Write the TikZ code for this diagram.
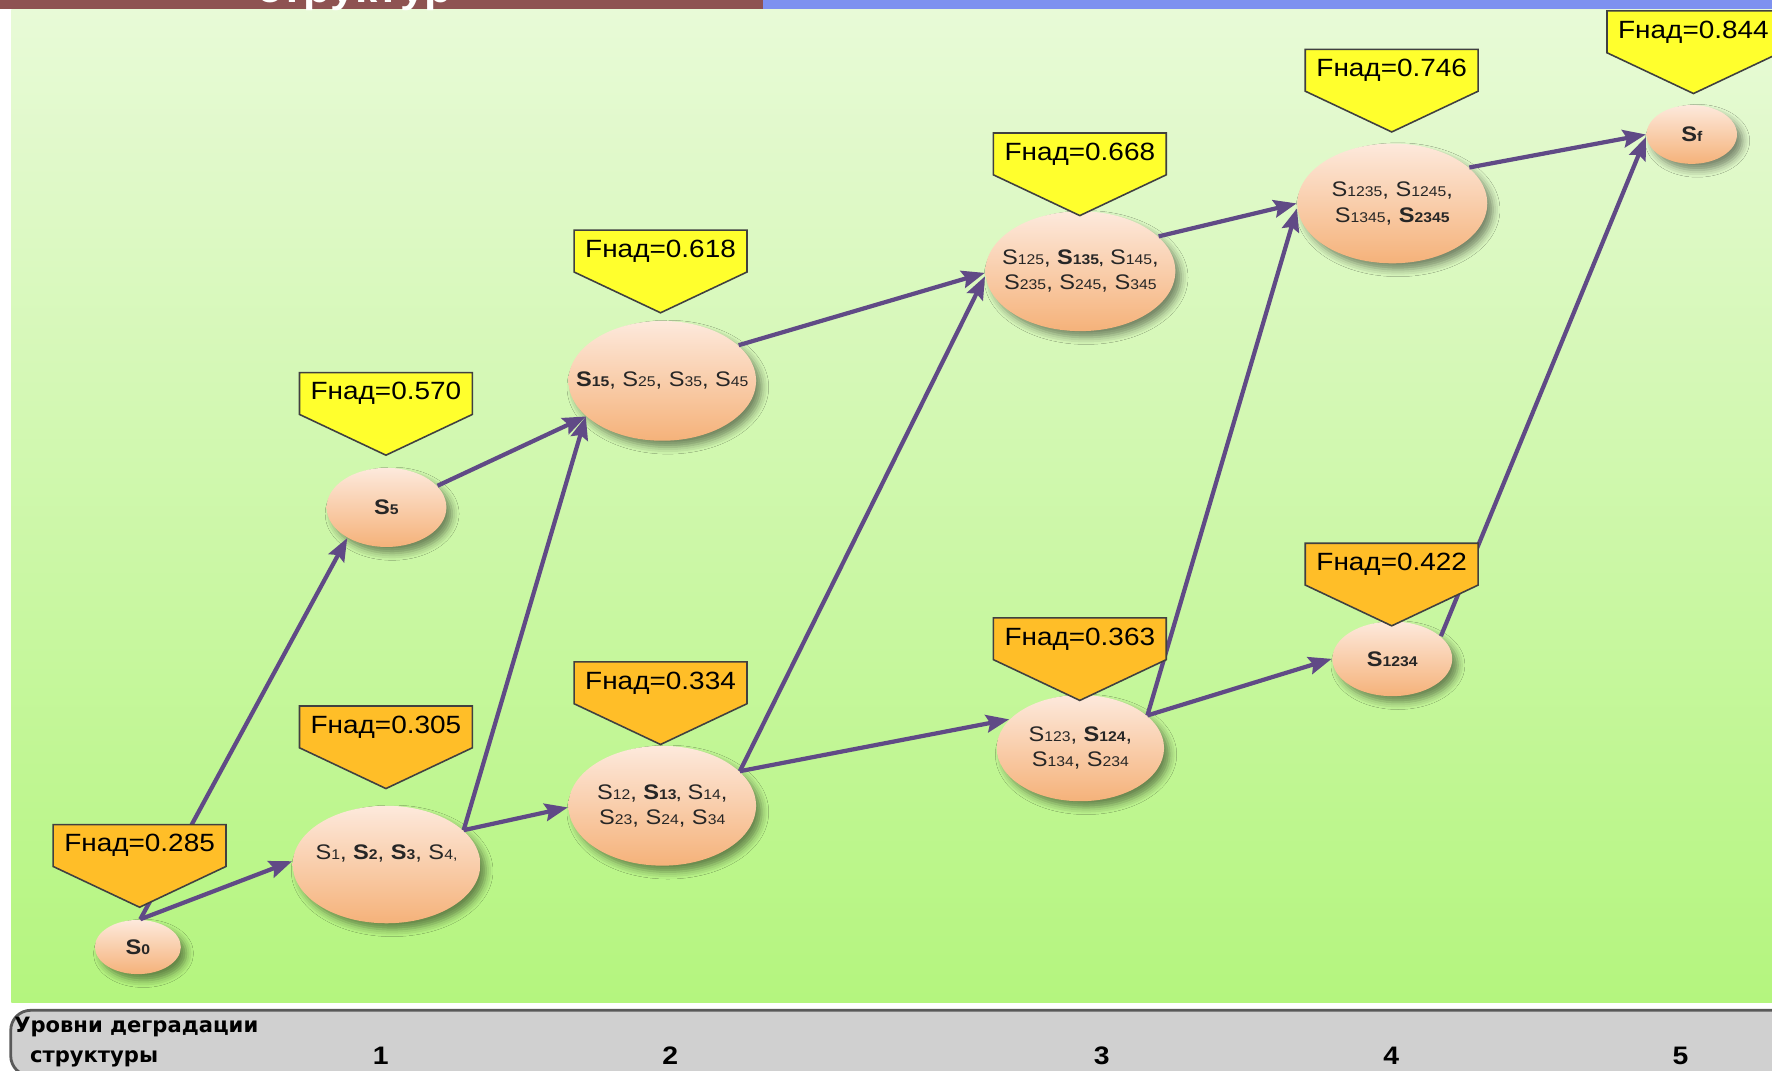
\documentclass[tikz,border=0pt]{standalone}
\usepackage{fontspec}
\setmainfont{Liberation Sans}[FakeStretch=1.12]
\newfontfamily\levfont{DejaVu Sans}
\usepackage{tikz}
\usetikzlibrary{shapes.geometric}
\usetikzlibrary{shapes.symbols}
\usetikzlibrary{arrows.meta}
\usetikzlibrary{shadows.blur}

\definecolor{linkViolet}{RGB}{96,74,134}
\definecolor{fYel}{RGB}{255,255,45}
\definecolor{fOra}{RGB}{255,190,40}
\definecolor{stTop}{RGB}{253,233,220}
\definecolor{stBot}{RGB}{245,178,122}
\definecolor{bgTop}{RGB}{232,250,215}
\definecolor{bgBot}{RGB}{180,245,126}
\definecolor{barBrown}{RGB}{142,82,82}
\definecolor{barBlue}{RGB}{125,145,240}
\definecolor{levGrey}{RGB}{208,208,208}

\newcommand{\snorm}[1]{S{\fontsize{4}{5}\selectfont #1}}
\newcommand{\sbold}[1]{\textbf{S{\fontsize{4}{5}\selectfont #1}}}

\begin{document}
\begin{tikzpicture}[x=0.11301mm, y=-0.11301mm,
  every node/.style={inner sep=0pt},
  stnode/.style={ellipse, top color=stTop, bottom color=stBot,
    blur shadow={shadow xshift=1.6pt, shadow yshift=-1.8pt,
      shadow blur radius=2pt, shadow opacity=45}},
  stl/.style={font=\fontsize{6}{7.2}\selectfont, align=center, text=black!85},
  fnad/.style={signal, signal to=south, signal pointer angle=129.5,
    draw=black!75, line width=0.45pt, anchor=north,
    minimum width=17.29mm, inner xsep=0pt, inner ysep=2.65pt,
    text height=5.1pt, text depth=1.5pt, font=\fontsize{7.1}{8}\selectfont},
  fyel/.style={fnad, fill=fYel},
  fora/.style={fnad, fill=fOra},
  link/.style={->, >={Stealth[length=6.5pt, width=5pt, inset=1pt]},
    draw=linkViolet, line width=1.2pt},
]
\useasboundingbox (0,0) rectangle (1568,947);
\clip (0,0) rectangle (1568,947);

% Background and bars
\fill[barBrown] (0,0) rectangle (675,8);
\fill[barBlue] (675,0) rectangle (1568,8);
\shade[top color=bgTop, bottom color=bgBot] (10,8) rectangle (1568,887);
\draw[fill=levGrey, draw=black!65, line width=0.8pt, rounded corners=2mm]
  (9.5,894) rectangle (1620,952);
\node[anchor=base west, text=white, font=\bfseries\fontsize{11.3}{13}\selectfont]
  (title) at (227,2) {структур};

% Level scale
\node[anchor=base west, font=\levfont\bfseries\fontsize{6}{7}\selectfont] (levA) at (12,914) {Уровни деградации};
\node[anchor=base west, font=\levfont\bfseries\fontsize{6}{7}\selectfont] (levB) at (26,940) {структуры};
\node[anchor=base, font=\bfseries\fontsize{7.2}{8}\selectfont] (lv1) at (337,942) {1};
\node[anchor=base, font=\bfseries\fontsize{7.2}{8}\selectfont] (lv2) at (593,942) {2};
\node[anchor=base, font=\bfseries\fontsize{7.2}{8}\selectfont] (lv3) at (975,942) {3};
\node[anchor=base, font=\bfseries\fontsize{7.2}{8}\selectfont] (lv4) at (1231,942) {4};
\node[anchor=base, font=\bfseries\fontsize{7.2}{8}\selectfont] (lv5) at (1487,942) {5};

% States
\node[stnode, minimum width=8.59mm, minimum height=5.42mm,
  label={[stl]center:{\sbold{0}}}] (s0) at (122,838) {};
\node[stnode, minimum width=18.76mm, minimum height=11.75mm,
  label={[stl, yshift=1.1mm]center:{\snorm{1}, \sbold{2}, \sbold{3}, \snorm{4,}}}] (s1) at (342,765) {};
\node[stnode, minimum width=11.98mm, minimum height=7.91mm,
  label={[stl]center:{\sbold{5}}}] (s5) at (342,449) {};
\node[stnode, minimum width=18.76mm, minimum height=11.98mm,
  label={[stl]center:{\sbold{15}, \snorm{25}, \snorm{35}, \snorm{45}}}] (s15) at (586,337) {};
\node[stnode, minimum width=18.76mm, minimum height=11.98mm,
  label={[stl]center:{\snorm{12}, \sbold{13,} \snorm{14},\\ \snorm{23}, \snorm{24}, \snorm{34}}}] (s12) at (586,713) {};
\node[stnode, minimum width=18.99mm, minimum height=11.98mm,
  label={[stl]center:{\snorm{125}, \sbold{135,} \snorm{145},\\ \snorm{235}, \snorm{245}, \snorm{345}}}] (s125) at (956,240) {};
\node[stnode, minimum width=16.73mm, minimum height=10.62mm,
  label={[stl]center:{\snorm{123}, \sbold{124},\\ \snorm{134}, \snorm{234}}}] (s123) at (956,662) {};
\node[stnode, minimum width=18.99mm, minimum height=11.98mm,
  label={[stl]center:{\snorm{1235}, \snorm{1245},\\ \snorm{1345}, \sbold{2345}}}] (s1235) at (1232,180) {};
\node[stnode, minimum width=11.98mm, minimum height=7.46mm,
  label={[stl]center:{\sbold{1234}}}] (s1234) at (1232,583) {};
\node[stnode, minimum width=9.04mm, minimum height=5.88mm,
  label={[stl]center:{\sbold{f}}}] (sf) at (1497,119) {};

% Transitions
\draw[link] (s0.85) -- (s1.178);
\draw[link] (s0.85) -- (s5.218);
\draw[link] (s1.24) -- (s15.205);
\draw[link] (s1.24) -- (s12.181);
\draw[link] (s5.23) -- (s15.205);
\draw[link] (s15.25) -- (s125.181);
\draw[link] (s12.24) -- (s125.183);
\draw[link] (s12.24) -- (s123.158);
\draw[link] (s125.24) -- (s1235.180);
\draw[link] (s123.26) -- (s1235.183);
\draw[link] (s123.26) -- (s1234.180);
\draw[link] (s1235.25) -- (sf.180);
\draw[link] (s1234.25) -- (sf.183);

% Reliability callouts
\node[fora] (f285) at (123.5,729) {Fнад=0.285};
\node[fyel] (f570) at (341.5,329) {Fнад=0.570};
\node[fora] (f305) at (341.5,624) {Fнад=0.305};
\node[fyel] (f618) at (584.5,203) {Fнад=0.618};
\node[fora] (f334) at (584.5,585) {Fнад=0.334};
\node[fyel] (f668) at (955.5,117) {Fнад=0.668};
\node[fora] (f363) at (955.5,546) {Fнад=0.363};
\node[fyel] (f746) at (1231.5,43) {Fнад=0.746};
\node[fora] (f422) at (1231.5,480) {Fнад=0.422};
\node[fyel] (f844) at (1498.5,9) {Fнад=0.844};

\end{tikzpicture}
\end{document}
